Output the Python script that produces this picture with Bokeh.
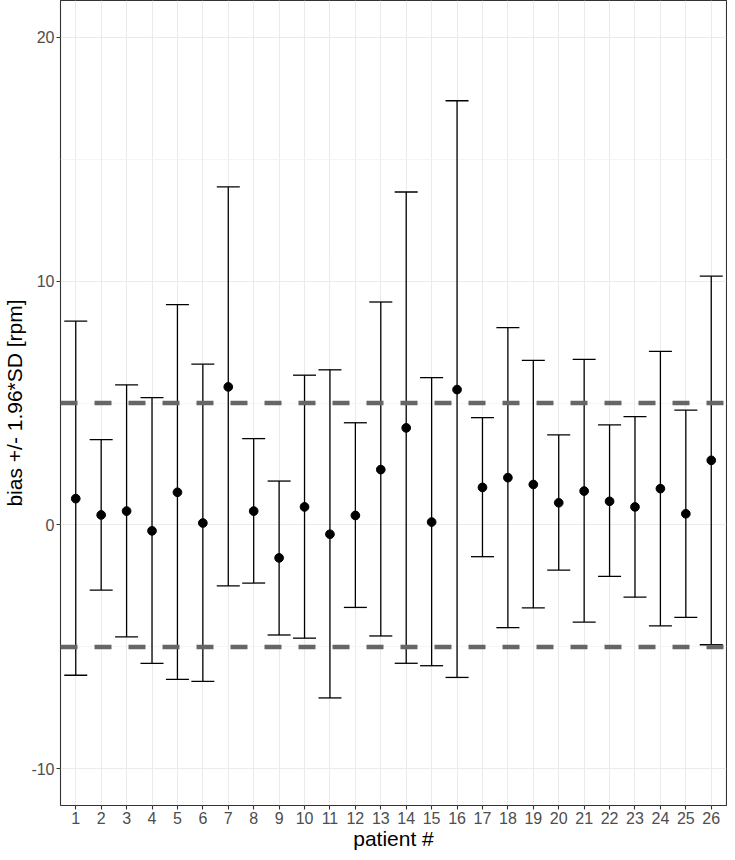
from bokeh.plotting import figure
from bokeh.models import ColumnDataSource, Whisker, TeeHead, Span, FixedTicker, Range1d
from bokeh.embed import file_html
from bokeh.resources import INLINE

patients = list(range(1, 27))
bias = [1.08, 0.41, 0.57, -0.24, 1.34, 0.08, 5.66, 0.57, -1.35, 0.74, -0.38, 0.39, 2.27,
        3.98, 0.12, 5.55, 1.54, 1.94, 1.66, 0.91, 1.39, 0.97, 0.74, 1.49, 0.46, 2.65]
upper = [8.36, 3.50, 5.74, 5.22, 9.03, 6.59, 13.86, 3.54, 1.80, 6.14, 6.36, 4.19, 9.14,
         13.65, 6.04, 17.39, 4.40, 8.09, 6.75, 3.69, 6.79, 4.10, 4.44, 7.12, 4.71, 10.20]
lower = [-6.16, -2.67, -4.59, -5.67, -6.33, -6.41, -2.50, -2.38, -4.51, -4.64, -7.09, -3.38, -4.55,
         -5.67, -5.77, -6.25, -1.30, -4.21, -3.40, -1.85, -3.98, -2.11, -2.96, -4.14, -3.79, -4.91]
limits = [-5, 5]
y_ticks = [-10, 0, 10, 20]
y_minor = [-5, 5, 15]
y_tick_labels = {-10: "-10", 0: "0", 10: "10", 20: "20"}

FONT = "Liberation Sans"

src = ColumnDataSource(dict(x=patients, bias=bias, upper=upper, lower=lower))

p = figure(width=727, height=852, output_backend="svg", toolbar_location=None,
           x_range=Range1d(0.4, 26.6), y_range=Range1d(-11.5, 21.5),
           min_border_left=0, min_border_right=1, min_border_top=0, min_border_bottom=0)
p.background_fill_color = "white"
p.border_fill_color = "white"
p.outline_line_color = "#333333"
p.outline_line_width = 1.1

# grids
p.xaxis.ticker = FixedTicker(ticks=patients)
p.yaxis.ticker = FixedTicker(ticks=y_ticks, minor_ticks=y_minor)
p.yaxis.major_label_overrides = y_tick_labels
p.xgrid.ticker = FixedTicker(ticks=patients)
p.ygrid.ticker = FixedTicker(ticks=y_ticks, minor_ticks=y_minor)
p.xgrid.grid_line_color = "#ebebeb"
p.xgrid.grid_line_width = 1.1
p.ygrid.grid_line_color = "#ebebeb"
p.ygrid.grid_line_width = 1.1
p.ygrid.minor_grid_line_color = "#f3f3f3"
p.ygrid.minor_grid_line_width = 0.8

for ax in (p.xaxis[0], p.yaxis[0]):
    ax.axis_line_color = None
    ax.major_tick_line_color = "#333333"
    ax.major_tick_line_width = 1.1
    ax.major_tick_in = 0
    ax.major_tick_out = 4
    ax.minor_tick_line_color = None
    ax.major_label_text_font = FONT
    ax.major_label_text_font_size = "16px"
    ax.major_label_text_color = "#4d4d4d"
    ax.axis_label_text_font = FONT
    ax.axis_label_text_font_size = "21px"
    ax.axis_label_text_font_style = "normal"
    ax.axis_label_text_color = "black"
    ax.major_label_standoff = 2

p.xaxis.axis_label = "patient #"
p.yaxis.axis_label = "bias +/- 1.96*SD [rpm]"
p.xaxis.axis_label_standoff = 0
p.yaxis.axis_label_standoff = 2

whisk = Whisker(base="x", upper="upper", lower="lower", source=src,
                line_color="black", line_width=1.3,
                upper_head=TeeHead(size=23, line_color="black", line_width=1.3),
                lower_head=TeeHead(size=23, line_color="black", line_width=1.3))
p.add_layout(whisk)

p.scatter("x", "bias", source=src, size=8.7, color="black")

for lim in limits:
    p.add_layout(Span(location=lim, dimension="width", line_color="#666666",
                      line_width=4.5, line_dash="17 17"))

open("out.html", "w").write(file_html(p, INLINE))
